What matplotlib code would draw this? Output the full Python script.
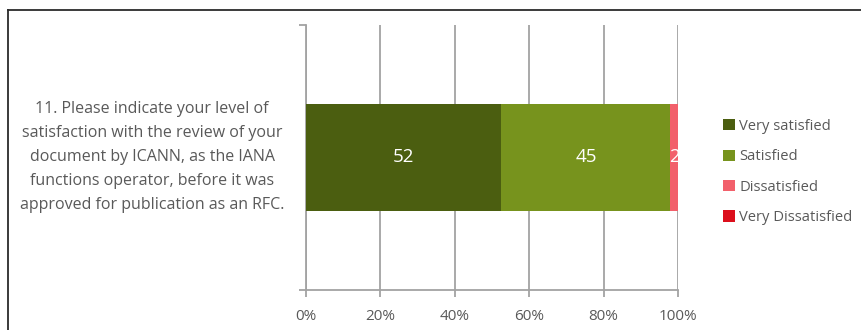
import matplotlib
matplotlib.use("Agg")
import matplotlib.pyplot as plt
from matplotlib.lines import Line2D
from matplotlib.patches import Patch

plt.rcParams['font.family'] = ['Open Sans', 'DejaVu Sans']

question = ("11. Please indicate your level of\n"
            "satisfaction with the review of your\n"
            "document by ICANN, as the IANA\n"
            "functions operator, before it was\n"
            "approved for publication as an RFC.")
categories = ["Very satisfied", "Satisfied", "Dissatisfied", "Very Dissatisfied"]
counts = [52, 45, 2, 0]
colors = ["#4b5e10", "#77931d", "#f2606b", "#dc0f1c"]
xticks = [0, 20, 40, 60, 80, 100]
xticklabels = ["0%", "20%", "40%", "60%", "80%", "100%"]

text_col = "#595959"
grid_col = "#a3a3a3"

fig = plt.figure(figsize=(8.61, 3.30), dpi=100)
ax = fig.add_axes([306 / 861, 1 - 290 / 330, 372 / 861, 265 / 330])

total = float(sum(counts))
left = 0.0
for name, c, col in zip(categories, counts, colors):
    w = c / total * 100
    ax.barh(0.5, w, height=0.404, left=left, color=col, zorder=3, label=name)
    if c > 0:
        ax.text(left + w / 2, 0.5, str(c), ha='center', va='center',
                color='white', fontsize=13.5, zorder=4)
    left += w

ax.set_xlim(0, 100)
ax.set_ylim(0, 1)
ax.set_xticks(xticks)
ax.set_xticklabels(xticklabels)
ax.set_yticks([0, 1])
ax.set_yticklabels([])
ax.tick_params(axis='x', colors=grid_col, labelcolor=text_col, labelsize=11,
               length=5, width=1.3, pad=9)
ax.tick_params(axis='y', colors=grid_col, length=5, width=1.3)
ax.grid(axis='x', color=grid_col, linewidth=1.3, zorder=0)
for s in ['top', 'right']:
    ax.spines[s].set_visible(False)
for s in ['left', 'bottom']:
    ax.spines[s].set_color(grid_col)
    ax.spines[s].set_linewidth(1.3)

fig.text(152 / 861, 1 - 157 / 330, question, ha='center', va='center',
         color=text_col, fontsize=11.5, linespacing=1.65)

handles = [Patch(facecolor=col, edgecolor='none') for col in colors]
fig.legend(handles, categories, loc='center left',
           bbox_to_anchor=(710 / 861, 1 - 172 / 330), frameon=False,
           fontsize=10.6, labelcolor=text_col, handlelength=0.8,
           handleheight=0.8, handletextpad=0.3, labelspacing=1.05)

# outer frame
fig.add_artist(Line2D([8 / 861, 1.0], [1 - 10 / 330, 1 - 10 / 330],
                      transform=fig.transFigure, color='#2b2b2b', linewidth=1.3))
fig.add_artist(Line2D([8 / 861, 8 / 861], [0.0, 1 - 10 / 330],
                      transform=fig.transFigure, color='#2b2b2b', linewidth=1.3))

fig.savefig("out.png", dpi=100)
